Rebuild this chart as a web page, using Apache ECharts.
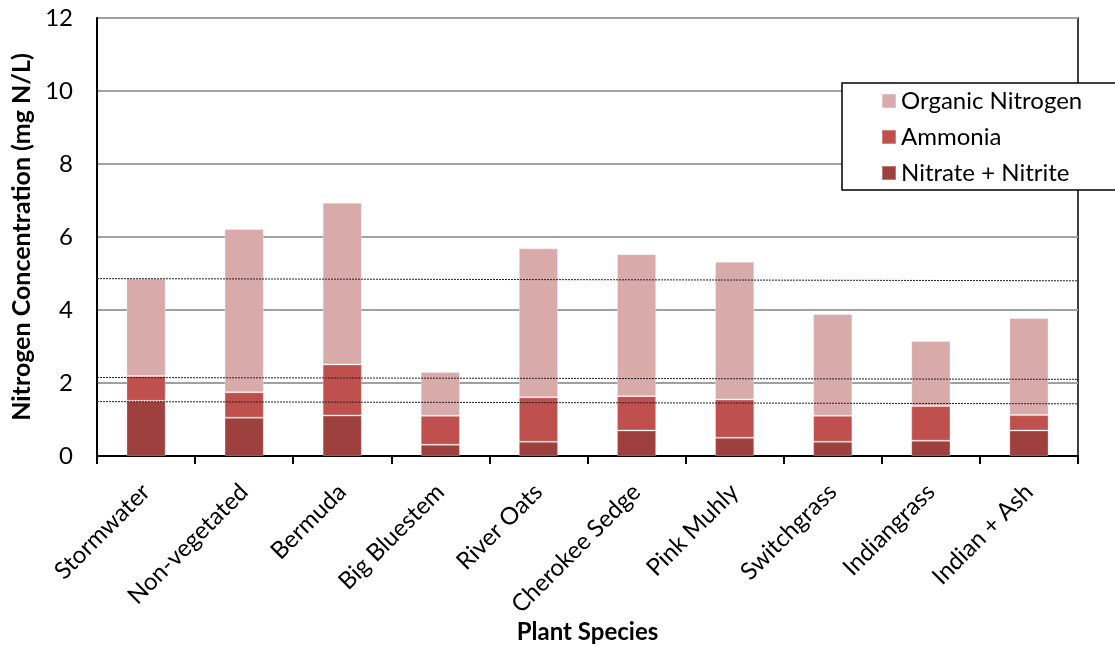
<!DOCTYPE html>
<html>
<head>
<meta charset="utf-8">
<script src="https://cdn.jsdelivr.net/npm/echarts@6/dist/echarts.min.js"></script>
<style>
html,body{margin:0;padding:0;background:#fff;}
#chart{width:1115px;height:646px;}
</style>
</head>
<body>
<div id="chart"></div>
<script>
const categories = ['Stormwater','Non-vegetated','Bermuda','Big Bluestem','River Oats','Cherokee Sedge','Pink Muhly','Switchgrass','Indiangrass','Indian + Ash'];
// cumulative tops
const nitrateTop = [1.51, 1.05, 1.11, 0.31, 0.39, 0.70, 0.50, 0.39, 0.42, 0.70];
const ammoniaTop = [2.19, 1.75, 2.51, 1.10, 1.61, 1.64, 1.55, 1.10, 1.37, 1.12];
const totalTop   = [4.86, 6.22, 6.94, 2.30, 5.69, 5.53, 5.32, 3.89, 3.15, 3.78];
const nitrate = nitrateTop.slice();
const ammonia = ammoniaTop.map((v,i)=> +(v - nitrateTop[i]).toFixed(2));
const organic = totalTop.map((v,i)=> +(v - ammoniaTop[i]).toFixed(2));
// dotted reference lines (left end value, right end value)
const refLeft  = [4.86, 2.15, 1.49];
const refRight = [4.80, 2.10, 1.43];
const yTicks = {min: 0, max: 12, interval: 2};

const FONT = 'Lato';
const colors = {organic:'#D9AAAA', ammonia:'#C0504D', nitrate:'#9E403E'};

const chart = echarts.init(document.getElementById('chart'), null, {renderer:'canvas'});

const barStyle = (c) => ({color: c, borderColor: 'rgba(255,255,255,0.3)', borderWidth: 1});

const refSeries = refLeft.map((l,i)=>({
  type:'line', xAxisIndex:1, yAxisIndex:0, silent:true, symbol:'none', z:5,
  lineStyle:{color:'#222', width:1, type:[2,1]},
  data:[[0,l],[1,refRight[i]]]
}));

chart.setOption({
  animation:false,
  textStyle:{fontFamily:FONT},
  grid:{left:97, right:37, top:18, bottom:190, show:true, borderColor:'#000', borderWidth:1.5,
        backgroundColor:'transparent', containLabel:false, outerBoundsMode:'none'},
  xAxis:[{
    type:'category', data:categories,
    axisLine:{lineStyle:{color:'#000', width:2}},
    axisTick:{show:true, alignWithLabel:false, length:8, lineStyle:{color:'#000', width:2}},
    axisLabel:{rotate:45, margin:32, color:'#000', fontSize:24, fontFamily:FONT, interval:0},
    name:'Plant Species', nameLocation:'middle', nameGap:164, nameMoveOverlap:false,
    nameTextStyle:{fontWeight:'bold', fontSize:24, color:'#000', fontFamily:FONT}
  },{
    type:'value', min:0, max:1, show:false
  }],
  yAxis:{
    type:'value', min:yTicks.min, max:yTicks.max, interval:yTicks.interval,
    axisLine:{show:true, lineStyle:{color:'#000', width:2}},
    axisTick:{show:false},
    splitLine:{lineStyle:{color:'#A0A0A0', width:2}},
    axisLabel:{color:'#000', fontSize:24, margin:24, fontFamily:FONT},
    name:'Nitrogen Concentration (mg N/L)', nameLocation:'middle', nameGap:63, nameMoveOverlap:false,
    nameTextStyle:{fontWeight:'bold', fontSize:25, color:'#000', fontFamily:FONT}
  },
  legend:{
    data:['Organic Nitrogen','Ammonia','Nitrate + Nitrite'],
    orient:'vertical', left:881, top:89, itemWidth:14, itemHeight:14, itemGap:12,
    icon:'rect', z:10, padding:0,
    textStyle:{fontSize:24, color:'#000', fontFamily:FONT, lineHeight:24}
  },
  graphic:[{
    type:'rect', z:8, shape:{x:842, y:83, width:300, height:107},
    style:{fill:'#fff', stroke:'#000', lineWidth:1.5}
  }],
  series:[
    {name:'Nitrate + Nitrite', type:'bar', stack:'n', data:nitrate, barWidth:'40%', itemStyle:barStyle(colors.nitrate)},
    {name:'Ammonia', type:'bar', stack:'n', data:ammonia, itemStyle:barStyle(colors.ammonia)},
    {name:'Organic Nitrogen', type:'bar', stack:'n', data:organic, itemStyle:barStyle(colors.organic)},
    ...refSeries
  ]
});
</script>
</body>
</html>
